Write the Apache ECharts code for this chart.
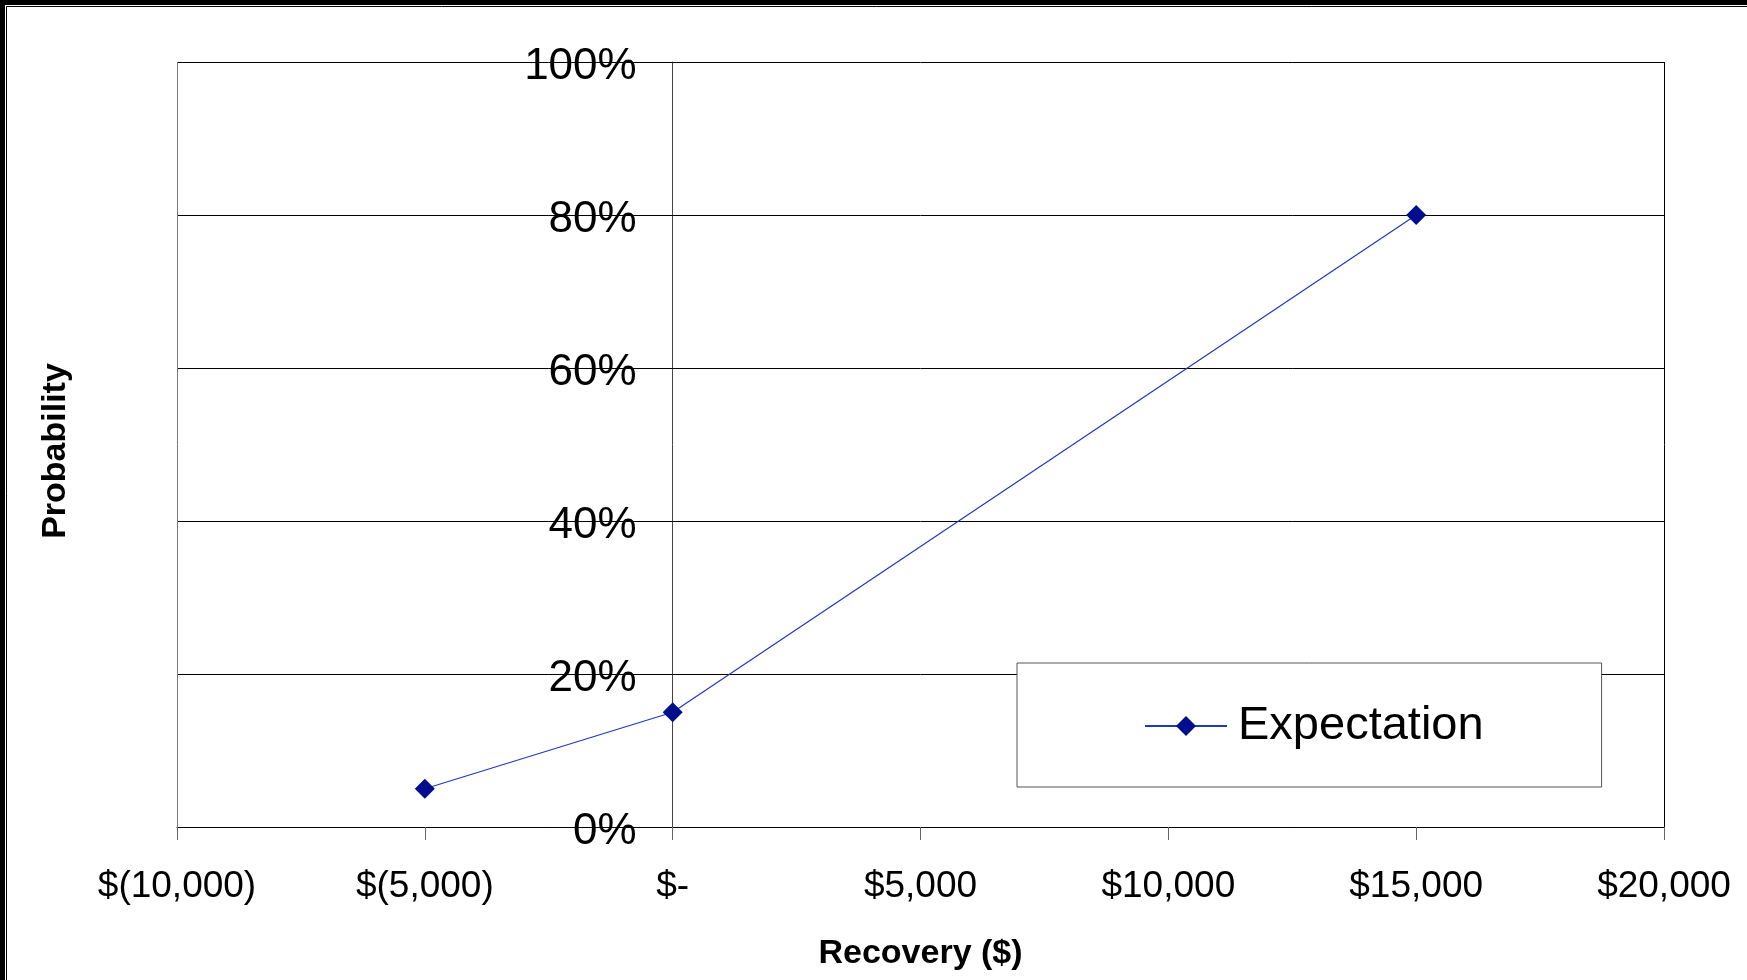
<!DOCTYPE html>
<html>
<head>
<meta charset="utf-8">
<script src="https://cdn.jsdelivr.net/npm/echarts@6/dist/echarts.min.js"></script>
<style>
html,body{margin:0;padding:0;background:#fff;}
#chart{width:1747px;height:980px;}
</style>
</head>
<body>
<div id="chart"></div>
<script>
// Data
const recovery = [-5000, 0, 15000];
const probability = [5, 15, 80];
const seriesName = 'Expectation';
const xTicks = [-10000, -5000, 0, 5000, 10000, 15000, 20000];
const xTickLabels = ['$(10,000)', '$(5,000)', '$-', '$5,000', '$10,000', '$15,000', '$20,000'];
const yTicks = [0, 20, 40, 60, 80, 100];
const yTickLabels = ['0%', '20%', '40%', '60%', '80%', '100%'];
const xTitle = 'Recovery ($)';
const yTitle = 'Probability';

const FONT = '"Liberation Sans", Arial, sans-serif';
const GRID_LEFT = 177, GRID_RIGHT = 83, W = 1747;
const plotW = W - GRID_LEFT - GRID_RIGHT;
const xMin = xTicks[0], xMax = xTicks[xTicks.length - 1];
// y axis crosses the x axis at value 0: shift the y axis there
const yAxisOffset = -plotW * (0 - xMin) / (xMax - xMin);

const chart = echarts.init(document.getElementById('chart'), null, {renderer: 'canvas'});

chart.setOption({
  backgroundColor: '#ffffff',
  animation: false,
  grid: {left: GRID_LEFT, right: GRID_RIGHT, top: 62, bottom: 153, show: false},
  legend: {
    data: [seriesName],
    left: 1017,
    top: 663,
    orient: 'horizontal',
    itemWidth: 82,
    itemHeight: 25,
    padding: [38, 118, 36, 127],
    borderColor: '#555',
    borderWidth: 1,
    backgroundColor: '#fff',
    textStyle: {fontFamily: FONT, fontSize: 47, color: '#000', lineHeight: 50, padding: [0, 0, 0, 6]}
  },
  xAxis: {
    type: 'value',
    min: xMin,
    max: xMax,
    interval: 5000,
    name: xTitle,
    nameLocation: 'middle',
    nameGap: 110,
    nameTextStyle: {fontFamily: FONT, fontSize: 34, fontWeight: 'bold', color: '#000'},
    axisLine: {show: true, lineStyle: {color: '#000', width: 1}},
    axisTick: {show: true, length: 13, lineStyle: {color: '#666', width: 1}},
    axisLabel: {
      margin: 41,
      fontFamily: FONT, fontSize: 37, color: '#000',
      formatter: function (v) { const i = xTicks.indexOf(v); return i >= 0 ? xTickLabels[i] : ''; }
    },
    splitLine: {
      show: true,
      lineStyle: {color: ['#777', 'rgba(0,0,0,0)', 'rgba(0,0,0,0)', 'rgba(0,0,0,0)', 'rgba(0,0,0,0)', 'rgba(0,0,0,0)', '#000'], width: 1}
    }
  },
  yAxis: {
    type: 'value',
    min: 0,
    max: 100,
    interval: 20,
    position: 'left',
    offset: yAxisOffset,
    axisLine: {show: true, onZero: false, lineStyle: {color: '#444', width: 1}},
    axisTick: {show: true, length: 15, lineStyle: {color: '#000', width: 1}},
    axisLabel: {
      margin: 36,
      fontFamily: FONT, fontSize: 44, color: '#000',
      formatter: function (v) { const i = yTicks.indexOf(v); return i >= 0 ? '{v|' + yTickLabels[i] + '}' : ''; },
      rich: {v: {fontFamily: FONT, fontSize: 44, color: '#000', padding: [9, 0, 0, 0]}}
    },
    splitLine: {show: true, lineStyle: {color: '#000', width: 1}}
  },
  graphic: [
    {type: 'rect', shape: {x: 0, y: 0, width: 1747, height: 5}, style: {fill: '#000'}, z: 100},
    {type: 'rect', shape: {x: 0, y: 0, width: 5, height: 980}, style: {fill: '#000'}, z: 100},
    {type: 'line', shape: {x1: 6.5, y1: 6.5, x2: 1747, y2: 6.5}, style: {stroke: '#000', lineWidth: 1}, z: 100},
    {type: 'line', shape: {x1: 6.5, y1: 6.5, x2: 6.5, y2: 980}, style: {stroke: '#000', lineWidth: 1}, z: 100},
    {
      type: 'text', x: 56, y: 451, rotation: Math.PI / 2,
      style: {text: yTitle, fontFamily: FONT, fontSize: 34, fontWeight: 'bold', fill: '#000', align: 'center', verticalAlign: 'middle'}
    }
  ],
  series: [{
    name: seriesName,
    type: 'line',
    data: recovery.map((x, i) => [x, probability[i]]),
    symbol: 'diamond',
    symbolSize: 20,
    itemStyle: {color: '#000e8e'},
    lineStyle: {color: '#2038bc', width: 1.2}
  }]
});
</script>
</body>
</html>
